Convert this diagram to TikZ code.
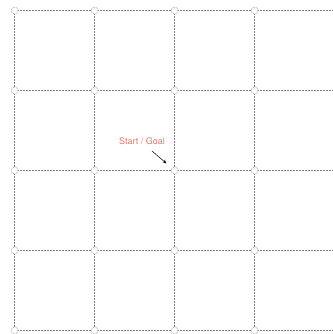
\documentclass[tikz,border=0pt]{standalone}
\usepackage{fontspec}
\setsansfont{TeX Gyre Heros}
\usetikzlibrary{arrows.meta,positioning,backgrounds}
\definecolor{gridgray}{gray}{0.5}
\definecolor{startred}{RGB}{240,112,104}
\tikzset{
  gridline/.style={draw=gridgray, densely dotted, line width=0.5pt},
  gridpt/.style={circle, draw=gridgray, densely dotted, fill=white,
    inner sep=0pt, minimum size=7pt, line width=0.6pt},
}

\begin{document}
\begin{tikzpicture}[x=1pt, y=-1pt, >={Stealth[length=4pt, width=3pt]}]
    \useasboundingbox (0,0) rectangle (332,334);

    % --- grid points ---
    \foreach \i in {0,...,3} {
        \foreach \j in {0,...,4} {
            \node[gridpt] (p\i\j) at ({14.5+80*\i}, {10.5+80*\j}) {};
        }
    }
    % right ends of the rows
    \foreach \j in {0,...,4} {
        \coordinate (e\j) at (332, {10.5+80*\j});
    }

    % --- grid lines ---
    \begin{scope}[on background layer]
        \foreach \j in {0,...,4} {
            \draw[gridline] (p0\j) -- (p1\j) -- (p2\j) -- (p3\j) -- (e\j);
        }
        \foreach \i in {0,...,3} {
            \draw[gridline] (p\i0) -- (p\i1) -- (p\i2) -- (p\i3) -- (p\i4);
        }
    \end{scope}

    % --- start / goal ---
    \node[text=startred, font=\sffamily\fontsize{9}{11}\selectfont] (start) at (142,141) {Start / Goal};
    \draw[->, line width=0.5pt] ([shift={(10,3)}]start.south) -- ([shift={(-8,-7)}]p22.center);

\end{tikzpicture}
\end{document}
